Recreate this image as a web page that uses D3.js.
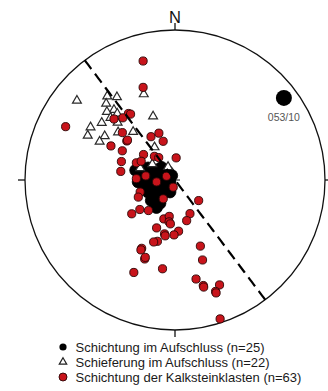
<!DOCTYPE html>
<html>
<head>
<meta charset="utf-8">
<script src="https://cdn.jsdelivr.net/npm/d3@7"></script>
<style>
  html, body { margin: 0; padding: 0; background: #fff; }
  svg { display: block; font-family: "Liberation Sans", Arial, sans-serif; }
</style>
</head>
<body>
<svg id="net" width="328" height="391"></svg>
<script>
// Poles as [trend, plunge] in degrees, lower hemisphere, equal-area (Schmidt) net.
const beddingOutcrop = [
  [293,69],[284,68],[284,72],[294,74],[297,78],[313,80],[319,84],[323,87],
  [275,76],[277,81],[270,85],[264,74],[255,77],[242,81],[235,85],[246,74],
  [233,76],[221,79],[203,83],[229,73],[213,75],[214,72],[255,73],[267,70],
  [248,87]
];
const cleavageOutcrop = [
  [309,17],[321,29],[325,33],[318,32],[319,38],[315,36],[319,41],[340,39],
  [341,53],[308,38],[302,34],[297,35],[302,44],[297,43],[315,45],[310,49],
  [319,55],[328,69],[305,75],[332,82],[289,70],[314,40]
];
const beddingClasts = [
  [345,19],[341,35],[296,20],[325,45],[320,45],[315,42],[312,51],[309,56],
  [298,50],[299,57],[289,59],[279,60],[331,63],[341,63],[343,68],[309,68],
  [319,73],[324,75],[3,78],[294,67],[299,69],[278,74],[272,69],[294,85],
  [264,80],[251,70],[245,68],[194,86],[212,78],[131,73],[230,65],[232,60],
  [221,68],[196,68],[189,70],[188,67],[156,70],[164,67],[201,62],[176,62],
  [181,60],[191,60],[196,55],[199,54],[206,48],[159,51],[201,43],[204,33],
  [188,40],[161,43],[168,33],[165,28],[157,25],[160,22],[162,3],
  [326,46],[190,59],[206,47],[186,66],[310,56],[201,44],[165,27],[160,21]
];
// Mean axis [trend, plunge]
const meanAxis = [53, 10];
// Best-fit plane through the poles: [strike, dip]
const girdlePlane = [143, 90];

const legendLabels = [
  "Schichtung im Aufschluss",
  "Schieferung im Aufschluss",
  "Schichtung der Kalksteinklasten"
];
const northLabel = "N";

// ---- layout ----
const cx = 175, cy = 180, R = 150;
const svg = d3.select("#net");
const x = d3.scaleLinear().domain([-1, 1]).range([cx - R, cx + R]);
const y = d3.scaleLinear().domain([-1, 1]).range([cy + R, cy - R]);
const rad = Math.PI / 180;

// Equal-area projection of a line (trend, plunge) to unit-circle coordinates
function project([trend, plunge]) {
  const r = Math.SQRT2 * Math.sin((90 - plunge) * rad / 2);
  return [r * Math.sin(trend * rad), r * Math.cos(trend * rad)];
}
const px = d => x(project(d)[0]);
const py = d => y(project(d)[1]);

// Great circle of a plane, sampled as lines lying in that plane
function greatCircle([strike, dip]) {
  const s = [Math.sin(strike * rad), Math.cos(strike * rad), 0];
  const dd = (strike + 90) * rad;
  const v = [Math.cos(dip * rad) * Math.sin(dd), Math.cos(dip * rad) * Math.cos(dd), Math.sin(dip * rad)];
  return d3.range(0, 180.01, 2).map(t => {
    const a = t * rad;
    const e = Math.cos(a) * s[0] + Math.sin(a) * v[0];
    const n = Math.cos(a) * s[1] + Math.sin(a) * v[1];
    const dn = Math.cos(a) * s[2] + Math.sin(a) * v[2];
    const pl = Math.asin(Math.max(-1, Math.min(1, dn))) / rad;
    const tr = (Math.atan2(e, n) / rad + 360) % 360;
    return [tr, pl];
  });
}

// Primitive circle
svg.append("circle")
  .attr("cx", x(0)).attr("cy", y(0)).attr("r", x(1) - x(0))
  .attr("fill", "none").attr("stroke", "#111").attr("stroke-width", 1.3);

// Ticks at N, E, S, W
const tickLen = 7 / R;
[0, 90, 180, 270].forEach(a => {
  const sx = Math.sin(a * rad), sy = Math.cos(a * rad);
  svg.append("line")
    .attr("x1", x(sx)).attr("y1", y(sy))
    .attr("x2", x(sx * (1 + tickLen))).attr("y2", y(sy * (1 + tickLen)))
    .attr("stroke", "#111").attr("stroke-width", 1.3);
});
svg.append("text")
  .attr("x", x(0)).attr("y", y(1) - 7)
  .attr("text-anchor", "middle").attr("font-size", 16.5).attr("fill", "#111")
  .text(northLabel);

// Centre cross
svg.append("path")
  .attr("d", `M${x(0) - 5},${y(0)}H${x(0) + 5}M${x(0)},${y(0) - 5}V${y(0) + 5}`)
  .attr("stroke", "#111").attr("stroke-width", 1);

// Bedding poles (outcrop)
svg.append("g").selectAll("circle").data(beddingOutcrop).join("circle")
  .attr("cx", px).attr("cy", py).attr("r", 6)
  .attr("fill", "#000").attr("stroke", "#000").attr("stroke-width", 0.8);

// Cleavage poles (outcrop)
const tri = d3.symbol().type(d3.symbolTriangle).size(34);
svg.append("g").selectAll("path").data(cleavageOutcrop).join("path")
  .attr("d", tri)
  .attr("transform", d => `translate(${px(d)},${py(d)})`)
  .attr("fill", "#fff").attr("stroke", "#2a2a2a").attr("stroke-width", 1.2);

// Bedding poles (limestone clasts)
svg.append("g").selectAll("circle").data(beddingClasts).join("circle")
  .attr("cx", px).attr("cy", py).attr("r", 4.1)
  .attr("fill", "#c8141b").attr("stroke", "#2a0505").attr("stroke-width", 0.9);

// Great circle (dashed)
svg.append("path")
  .datum(greatCircle(girdlePlane))
  .attr("d", d3.line().x(px).y(py))
  .attr("fill", "none").attr("stroke", "#000").attr("stroke-width", 2.2)
  .attr("stroke-dasharray", "11,6");

// Mean axis with label
svg.append("circle")
  .attr("cx", px(meanAxis)).attr("cy", py(meanAxis)).attr("r", 8)
  .attr("fill", "#000");
svg.append("text")
  .attr("x", px(meanAxis)).attr("y", py(meanAxis) + 23)
  .attr("text-anchor", "middle").attr("font-size", 10.5).attr("fill", "#555")
  .text(d3.format("03d")(meanAxis[0]) + "/" + d3.format("02d")(meanAxis[1]));

// Legend
const legendData = [
  { label: legendLabels[0], n: beddingOutcrop.length, kind: "dot" },
  { label: legendLabels[1], n: cleavageOutcrop.length, kind: "tri" },
  { label: legendLabels[2], n: beddingClasts.length, kind: "red" }
];
const lg = svg.append("g").attr("transform", "translate(63,347)");
legendData.forEach((d, i) => {
  const g = lg.append("g").attr("transform", `translate(0,${i * 15})`);
  if (d.kind === "dot") {
    g.append("circle").attr("r", 3.6).attr("fill", "#000");
  } else if (d.kind === "tri") {
    g.append("path").attr("d", d3.symbol().type(d3.symbolTriangle).size(24))
      .attr("fill", "#fff").attr("stroke", "#222").attr("stroke-width", 1.2);
  } else {
    g.append("circle").attr("r", 4).attr("fill", "#c8141b")
      .attr("stroke", "#2a0505").attr("stroke-width", 0.9);
  }
  g.append("text").attr("x", 12.5).attr("y", 5)
    .attr("font-size", 13).attr("fill", "#1a1a1a")
    .text(`${d.label} (n=${d.n})`);
});
</script>
</body>
</html>
